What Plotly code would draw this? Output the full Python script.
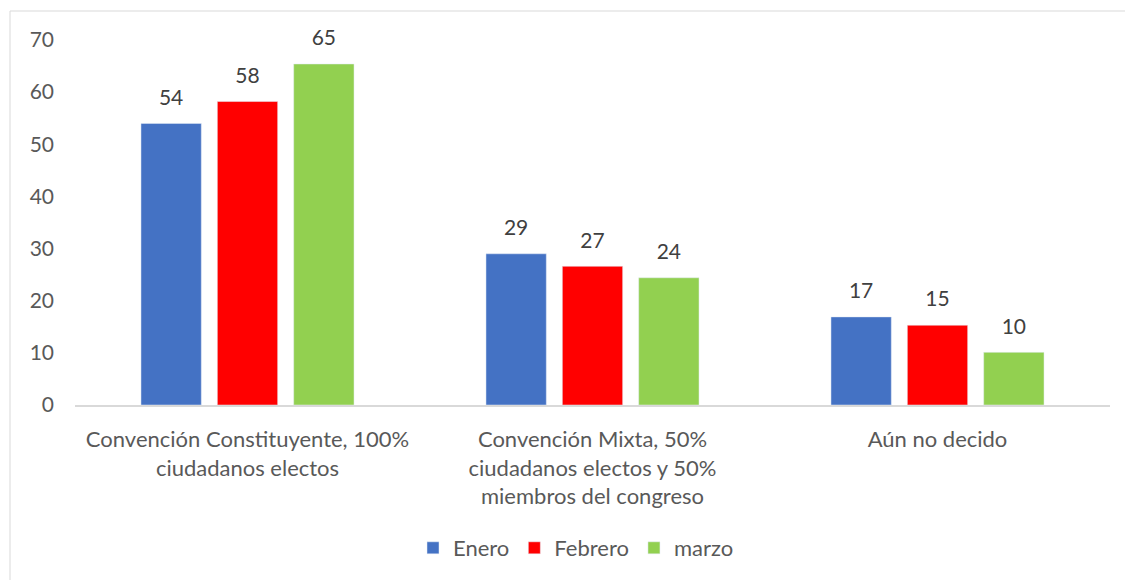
import plotly.graph_objects as go

categories = [
    "Convención Constituyente, 100%<br>ciudadanos electos",
    "Convención Mixta, 50%<br>ciudadanos electos y 50%<br>miembros del congreso",
    "Aún no decido",
]
enero = [54, 29, 16.9]
febrero = [58.2, 26.6, 15.3]
marzo = [65.4, 24.4, 10.1]
y_ticks = [0, 10, 20, 30, 40, 50, 60, 70]

series = [("Enero", enero, "#4472C4"), ("Febrero", febrero, "#FF0000"), ("marzo", marzo, "#92D050")]

W, H = 1125, 580
ml, mr, mt, mb = 75, 15, 40, 175
FS = 21
GAP = 0.336

fig = go.Figure()
for name, vals, col in series:
    fig.add_trace(go.Bar(
        name=name, x=categories, y=vals, marker_color=col, cliponaxis=False,
    ))
for name, vals, col in series:
    fig.add_trace(go.Scatter(
        name=name + " etiqueta", x=categories, y=vals, mode="markers+text",
        marker=dict(size=20, opacity=0), showlegend=False, hoverinfo="skip",
        text=[f"{round(v):d}" for v in vals], textposition="top center",
        textfont=dict(size=FS, color="#404040"), cliponaxis=False,
    ))

pw = W - ml - mr
ph = H - mt - mb
fig.add_shape(type="rect", xref="paper", yref="paper",
              x0=(10 - ml) / pw, x1=(W + 5 - ml) / pw,
              y0=(H - mb - (H + 5)) / ph, y1=(H - mb - 11) / ph,
              line=dict(color="#D9D9D9", width=1), fillcolor="rgba(0,0,0,0)", layer="below")

fig.update_layout(
    width=W, height=H,
    margin=dict(l=ml, r=mr, t=mt, b=mb, autoexpand=False),
    paper_bgcolor="white", plot_bgcolor="white",
    font=dict(family="Lato, Open Sans, sans-serif", size=FS, color="#595959"),
    barmode="group", bargap=GAP, bargroupgap=0.21,
    scattermode="group", scattergap=GAP,
    showlegend=True,
    legend=dict(orientation="h", x=0.512, xanchor="center", xref="container",
                y=1 - 548 / H, yanchor="middle", yref="container",
                font=dict(size=22, color="#595959"), itemwidth=30, traceorder="normal"),
)
fig.update_yaxes(range=[0, 70], tickvals=y_ticks, showgrid=False, zeroline=False, automargin=False,
                 showline=False, ticklabelstandoff=20, tickfont=dict(size=FS, color="#595959"))
fig.update_xaxes(showline=True, linecolor="#D9D9D9", linewidth=1.5, showgrid=False, automargin=False,
                 tickfont=dict(size=22, color="#595959"), ticklabelstandoff=14)

fig.write_html("out.html", config={"displayModeBar": False},
               post_script="document.body.style.margin='0';")
